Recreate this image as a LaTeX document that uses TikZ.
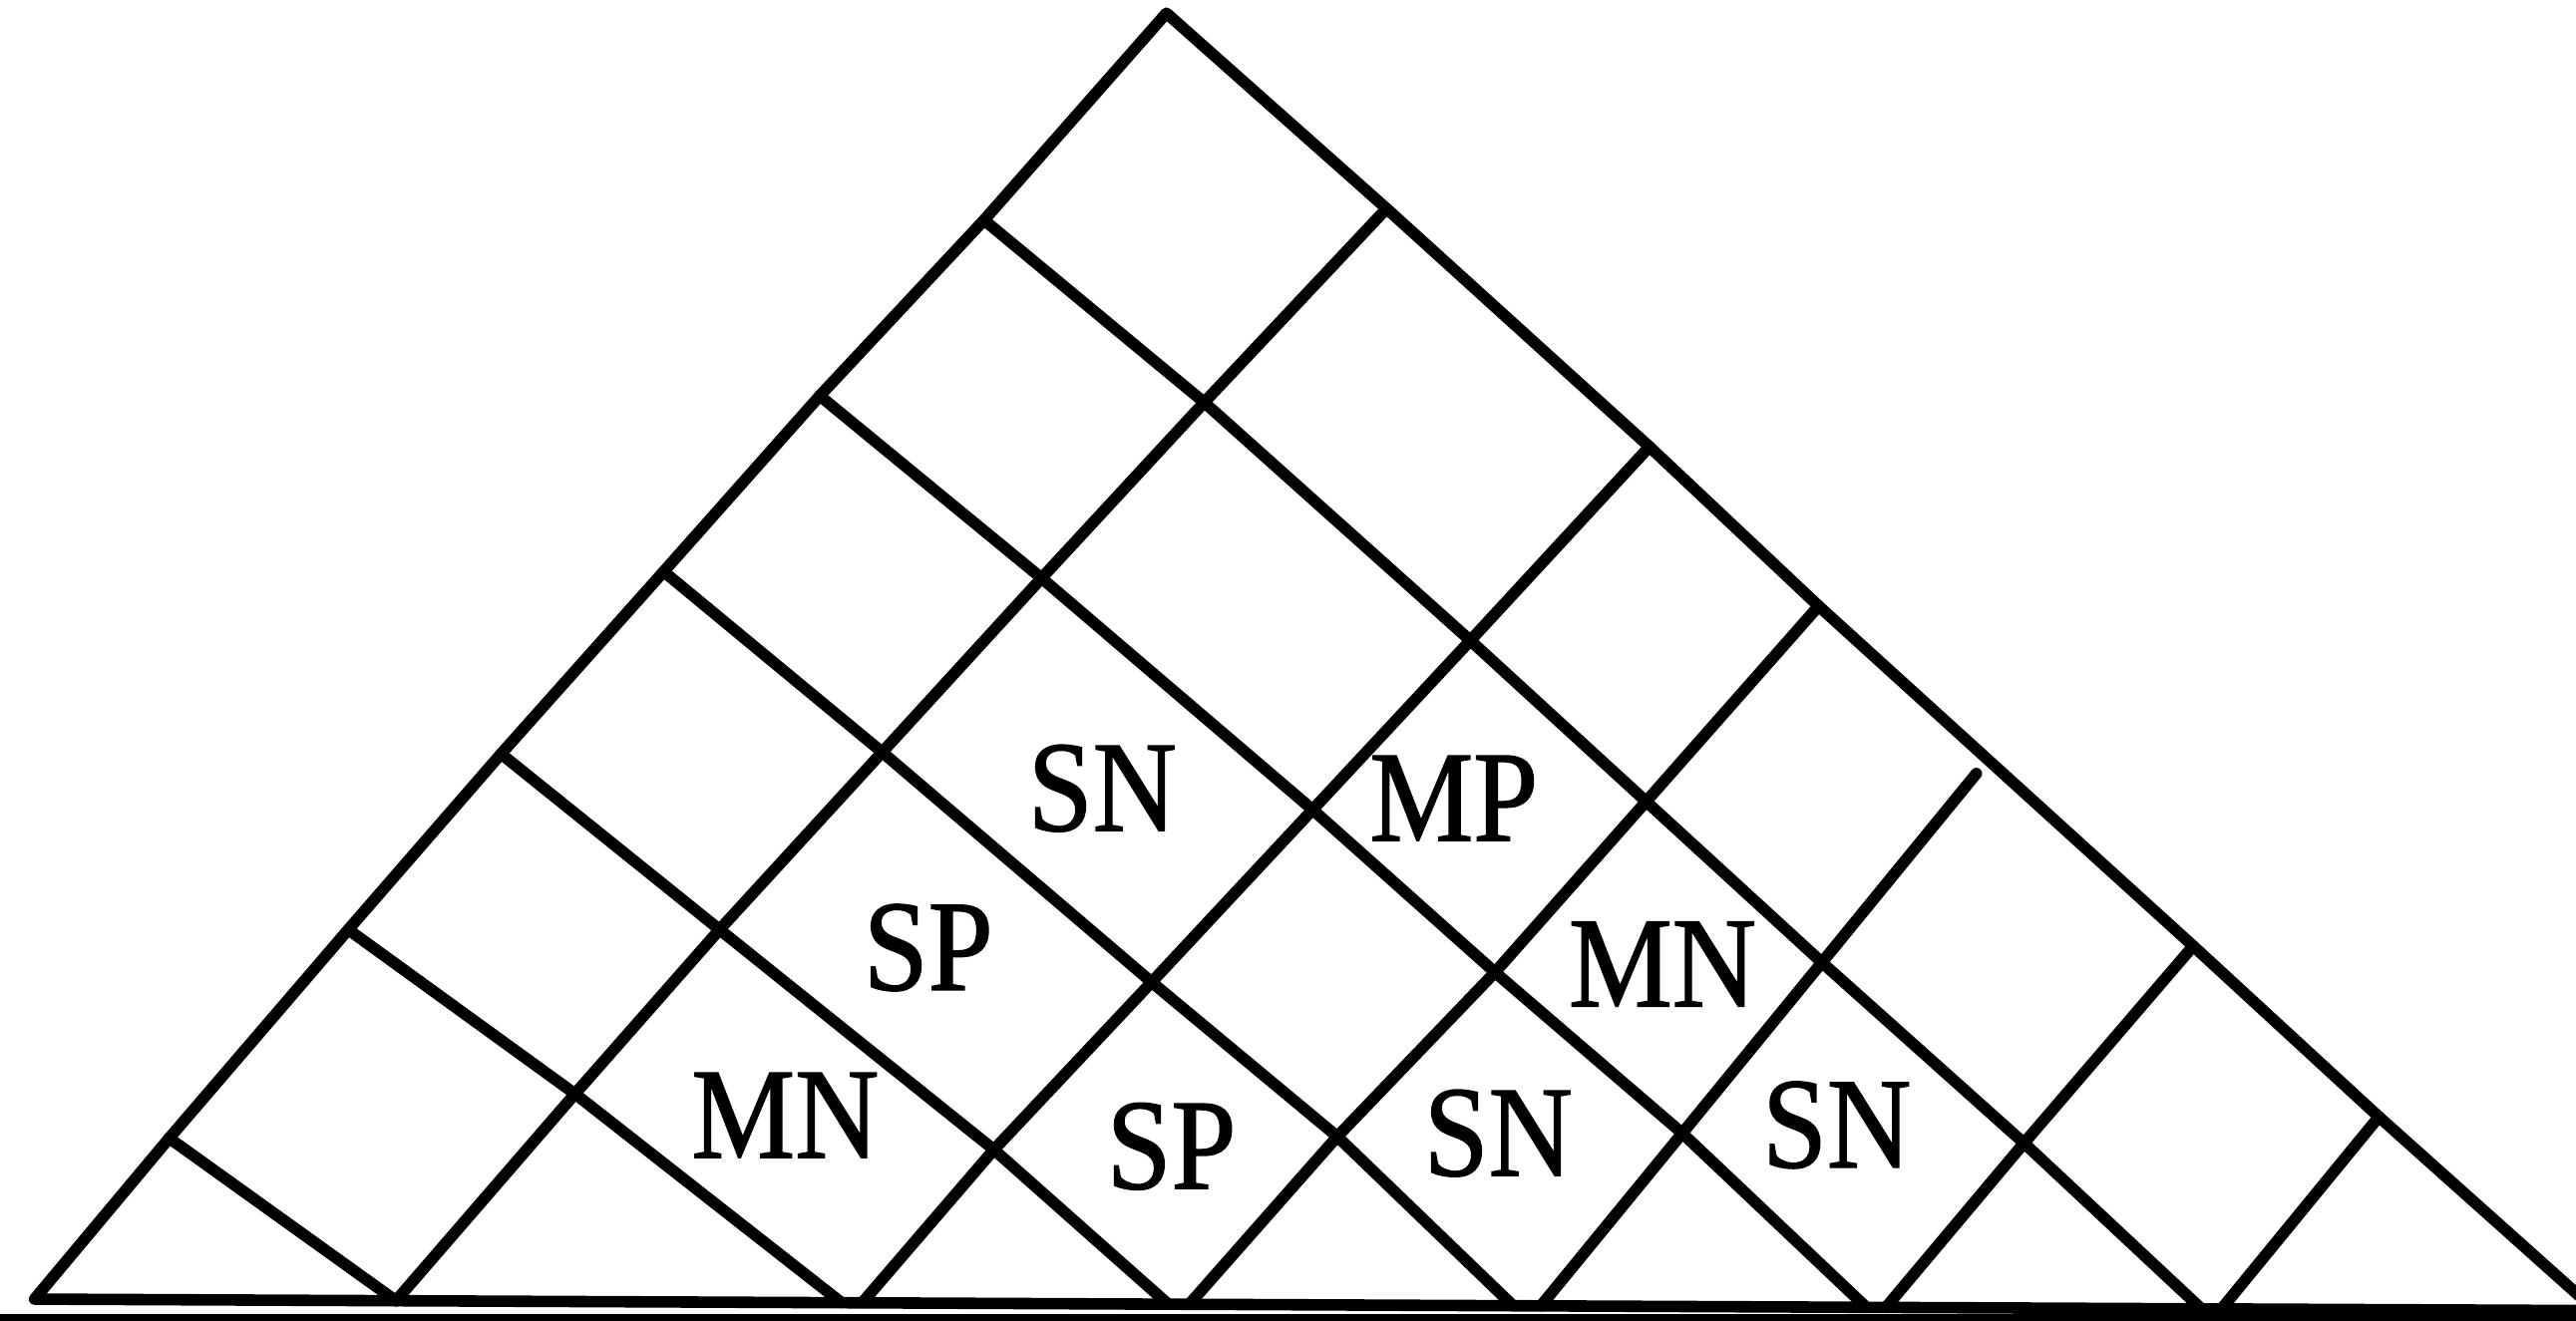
\documentclass[tikz,border=0pt]{standalone}
\usepackage{fontspec}
\setmainfont{Liberation Serif}
\newfontfamily\tagfont{Liberation Serif}[BoldFont={Liberation Serif},BoldFeatures={FakeBold=1.2}]

\begin{document}
\begin{tikzpicture}[x=0.1mm,y=-0.1mm,
  gridline/.style={line width=2pt,line cap=round,line join=round},
  lbl/.style={font=\tagfont\bfseries\fontsize{22.4}{26}\selectfont,xscale=0.9,inner sep=0pt}]
\fill[white] (0,0) rectangle (1568,804);
\useasboundingbox (0,0) rectangle (1568,804);
% points on the two slanted sides
\path (710,8) coordinate (top) (21,791) coordinate (lc) (1580,798) coordinate (rc)
  (599,134) coordinate (l1) (499,241) coordinate (l2) (404,348) coordinate (l3)
  (305,459) coordinate (l4) (212,566) coordinate (l5) (103,693) coordinate (l6)
  (844,127) coordinate (r1) (1004,272) coordinate (r2) (1107,369) coordinate (r3)
  (1203,471) coordinate (r4) (1335,576) coordinate (r5) (1448,680) coordinate (r6);
% crossings inside
\path (733,245) coordinate (v11) (895,390) coordinate (v12) (1002,488) coordinate (v13)
  (1109,586) coordinate (v14) (1232,696) coordinate (v15)
  (634,352) coordinate (v21) (799,493) coordinate (v22) (910,592) coordinate (v23) (1024,690) coordinate (v24)
  (537,458) coordinate (v31) (701,598) coordinate (v32) (814,692) coordinate (v33)
  (438,566) coordinate (v41) (605,700) coordinate (v42) (350,666) coordinate (v51);
% feet on the base
\path (1339,796) coordinate (d1) (1136,796) coordinate (d2) (921,795) coordinate (d3)
  (711,794) coordinate (d4) (512,793) coordinate (d5) (241,792) coordinate (d6)
  (525,793) coordinate (u2) (724,794) coordinate (u3) (938,795) coordinate (u4)
  (1148,796) coordinate (u5) (1353,796) coordinate (u6);

\draw[gridline] (lc) -- (l6) -- (l5) -- (l4) -- (l3) -- (l2) -- (l1) -- (top)
  -- (r1) -- (r2) -- (r3) -- (r5) -- (r6) -- (rc) -- cycle;
% down to the right
\draw[gridline] (l1) -- (v11) -- (v12) -- (v13) -- (v14) -- (v15) -- (d1);
\draw[gridline] (l2) -- (v21) -- (v22) -- (v23) -- (v24) -- (d2);
\draw[gridline] (l3) -- (v31) -- (v32) -- (v33) -- (d3);
\draw[gridline] (l4) -- (v41) -- (v42) -- (d4);
\draw[gridline] (l5) -- (v51) -- (d5);
\draw[gridline] (l6) -- (d6);
% up to the right
\draw[gridline] (d6) -- (v51) -- (v41) -- (v31) -- (v21) -- (v11) -- (r1);
\draw[gridline] (u2) -- (v42) -- (v32) -- (v22) -- (v12) -- (r2);
\draw[gridline] (u3) -- (v33) -- (v23) -- (v13) -- (r3);
\draw[gridline] (u4) -- (v24) -- (v14) -- (r4);
\draw[gridline] (u5) -- (v15) -- (r5);
\draw[gridline] (u6) -- (r6);
\draw[line width=1.5pt] (0,803) -- (1568,803);

\node[lbl] (sn1) at (671,480) {SN};
\node[lbl] (mp) at (885,486) {MP};
\node[lbl] (sp1) at (565,577) {SP};
\node[lbl] (mn1) at (1012,587) {MN};
\node[lbl] (mn2) at (478,679) {MN};
\node[lbl] (sp2) at (713,698) {SP};
\node[lbl] (sn2) at (912,690) {SN};
\node[lbl] (sn3) at (1118,685) {SN};
\end{tikzpicture}
\end{document}
